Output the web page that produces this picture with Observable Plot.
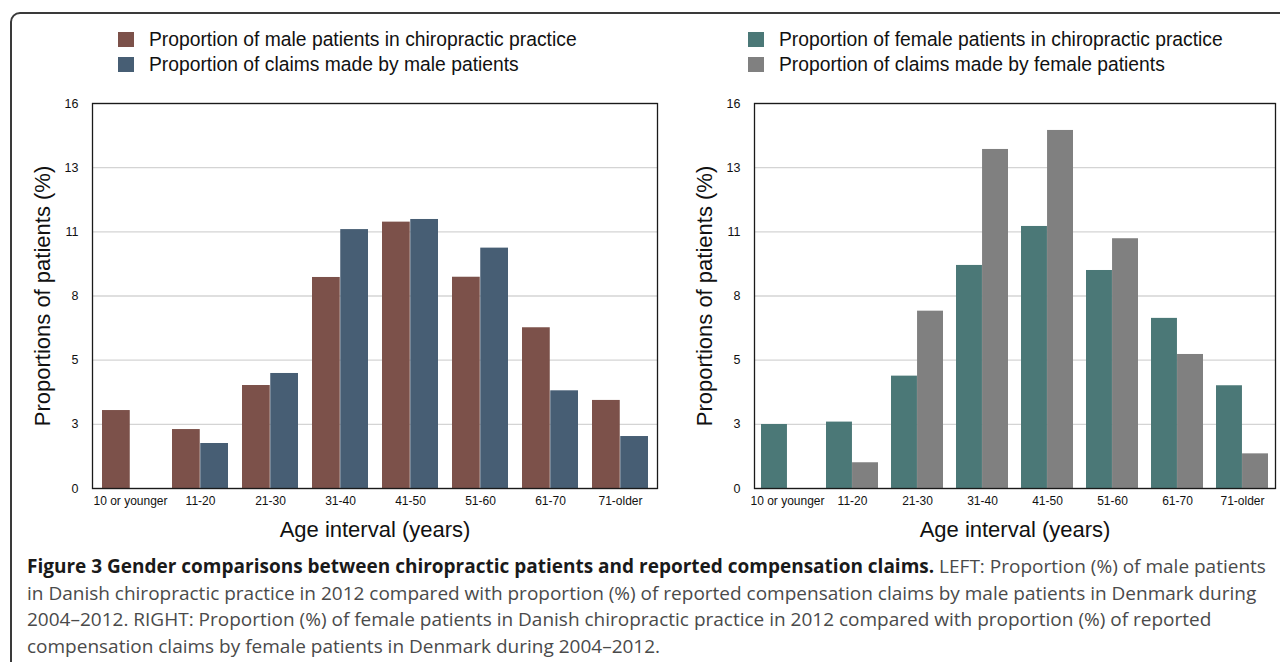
<!DOCTYPE html>
<html>
<head>
<meta charset="utf-8">
<script src="https://cdn.jsdelivr.net/npm/d3@7"></script>
<script src="https://cdn.jsdelivr.net/npm/@observablehq/plot@0.6"></script>
<style>
  html, body { margin: 0; padding: 0; background: #fff; }
  #wrap { position: relative; width: 1280px; height: 662px; overflow: hidden; background: #fff; }
  #box { position: absolute; left: 10px; top: 12px; width: 1320px; height: 720px; z-index: 5;
         border: 2px solid #3a3a3a; border-top-left-radius: 10px; box-sizing: border-box; pointer-events: none; }
  .panel { position: absolute; top: 80px; }
  .legend { position: absolute; top: 27px; font-family: "Liberation Sans", Arial, sans-serif;
            font-size: 19.3px; color: #111; }
  .legend .row { display: flex; align-items: center; height: 25px; white-space: nowrap; }
  .legend .sw { width: 16px; height: 15px; margin-right: 15px; }
  #caption { position: absolute; left: 27px; top: 553px; font-family: "Open Sans", sans-serif;
             font-size: 19px; line-height: 26.7px; color: #4a4a4a; white-space: nowrap; }
  #caption b { color: #1a1a1a; }
</style>
</head>
<body>
<div id="wrap">
  <div id="box"></div>
  <div class="legend" id="legL" style="left:118px"></div>
  <div class="legend" id="legR" style="left:748px"></div>
  <div class="panel" id="left" style="left:0px"></div>
  <div class="panel" id="right" style="left:680px"></div>
  <div id="caption"><b>Figure 3 Gender comparisons between chiropractic patients and reported compensation claims.</b> LEFT: Proportion (%) of male patients<br>in Danish chiropractic practice in 2012 compared with proportion (%) of reported compensation claims by male patients in Denmark during<br>2004–2012. RIGHT: Proportion (%) of female patients in Danish chiropractic practice in 2012 compared with proportion (%) of reported<br>compensation claims by female patients in Denmark during 2004–2012.</div>
</div>
<script>
// ---- data ----
const ages = ["10 or younger", "11-20", "21-30", "31-40", "41-50", "51-60", "61-70", "71-older"];
const malePatients   = [3.24, 2.45, 4.28, 8.77, 11.07, 8.78, 6.68, 3.66];
const maleClaims     = [null, 1.87, 4.78, 10.76, 11.18, 9.99, 4.06, 2.16];
const femalePatients = [2.66, 2.76, 4.67, 9.27, 10.89, 9.06, 7.07, 4.27];
const femaleClaims   = [null, 1.07, 7.37, 14.09, 14.88, 10.38, 5.57, 1.44];
const yMax = 16;
const yTickLabels = ["0", "3", "5", "8", "11", "13", "16"];
const yTicks = yTickLabels.map((_, i) => i * yMax / (yTickLabels.length - 1));

const seriesNames = {
  male: ["Proportion of male patients in chiropractic practice", "Proportion of claims made by male patients"],
  female: ["Proportion of female patients in chiropractic practice", "Proportion of claims made by female patients"]
};
const colors = {
  male: ["#7c514a", "#475e74"],
  female: ["#4b7877", "#808080"]
};

function rows(values) {
  return ages.map((age, i) => ({age, value: values[i]})).filter(d => d.value != null);
}

function panel({a, b, cols, width, marginLeft, marginRight}) {
  const height = 470, marginTop = 23, marginBottom = 62;
  const xs = Plot.scale({x: {type: "band", domain: ages, range: [marginLeft, width - marginRight],
                             paddingInner: 0.2, paddingOuter: 0.1}});
  const half = xs.bandwidth / 2;
  return Plot.plot({
    width, height, marginLeft, marginRight, marginTop, marginBottom,
    style: {fontFamily: "Liberation Sans, Arial, sans-serif", fontSize: "12px", color: "#111", background: "transparent", overflow: "visible"},
    x: {domain: ages, paddingInner: 0.2, paddingOuter: 0.1, axis: null},
    y: {domain: [0, yMax], axis: null},
    marks: [
      Plot.gridY(yTicks, {stroke: "#d4d4d4", strokeOpacity: 1, strokeWidth: 1.3}),
      Plot.barY(rows(a), {x: "age", y: "value", fill: cols[0], insetLeft: 0, insetRight: half}),
      Plot.barY(rows(b), {x: "age", y: "value", fill: cols[1], insetLeft: half, insetRight: 0}),
      Plot.frame({stroke: "#1a1a1a", strokeWidth: 1.3}),
      Plot.axisY(yTicks, {tickSize: 0, tickPadding: 14, fontSize: 12.5, label: null,
                          tickFormat: d => yTickLabels[Math.round(d / (yMax / 6))]}),
      Plot.axisX({tickSize: 0, tickPadding: 8, fontSize: 12, label: null}),
      Plot.text(["Proportions of patients (%)"], {frameAnchor: "left", textAnchor: "middle", lineAnchor: "middle", rotate: -90, dx: -50, fontSize: 22, fill: "#111"}),
      Plot.text(["Age interval (years)"], {frameAnchor: "bottom", textAnchor: "middle", lineAnchor: "middle", dy: 41, fontSize: 22, fill: "#111"})
    ]
  });
}

document.getElementById("left").append(panel({a: malePatients, b: maleClaims, cols: colors.male, width: 680, marginLeft: 92, marginRight: 23}));
document.getElementById("right").append(panel({a: femalePatients, b: femaleClaims, cols: colors.female, width: 600, marginLeft: 74, marginRight: 5}));

function legend(id, names, cols) {
  const el = document.getElementById(id);
  names.forEach((n, i) => {
    const r = document.createElement("div"); r.className = "row";
    const s = document.createElement("div"); s.className = "sw"; s.style.background = cols[i];
    const t = document.createElement("span"); t.textContent = n;
    r.append(s, t); el.append(r);
  });
}
legend("legL", seriesNames.male, colors.male);
legend("legR", seriesNames.female, colors.female);
</script>
</body>
</html>
